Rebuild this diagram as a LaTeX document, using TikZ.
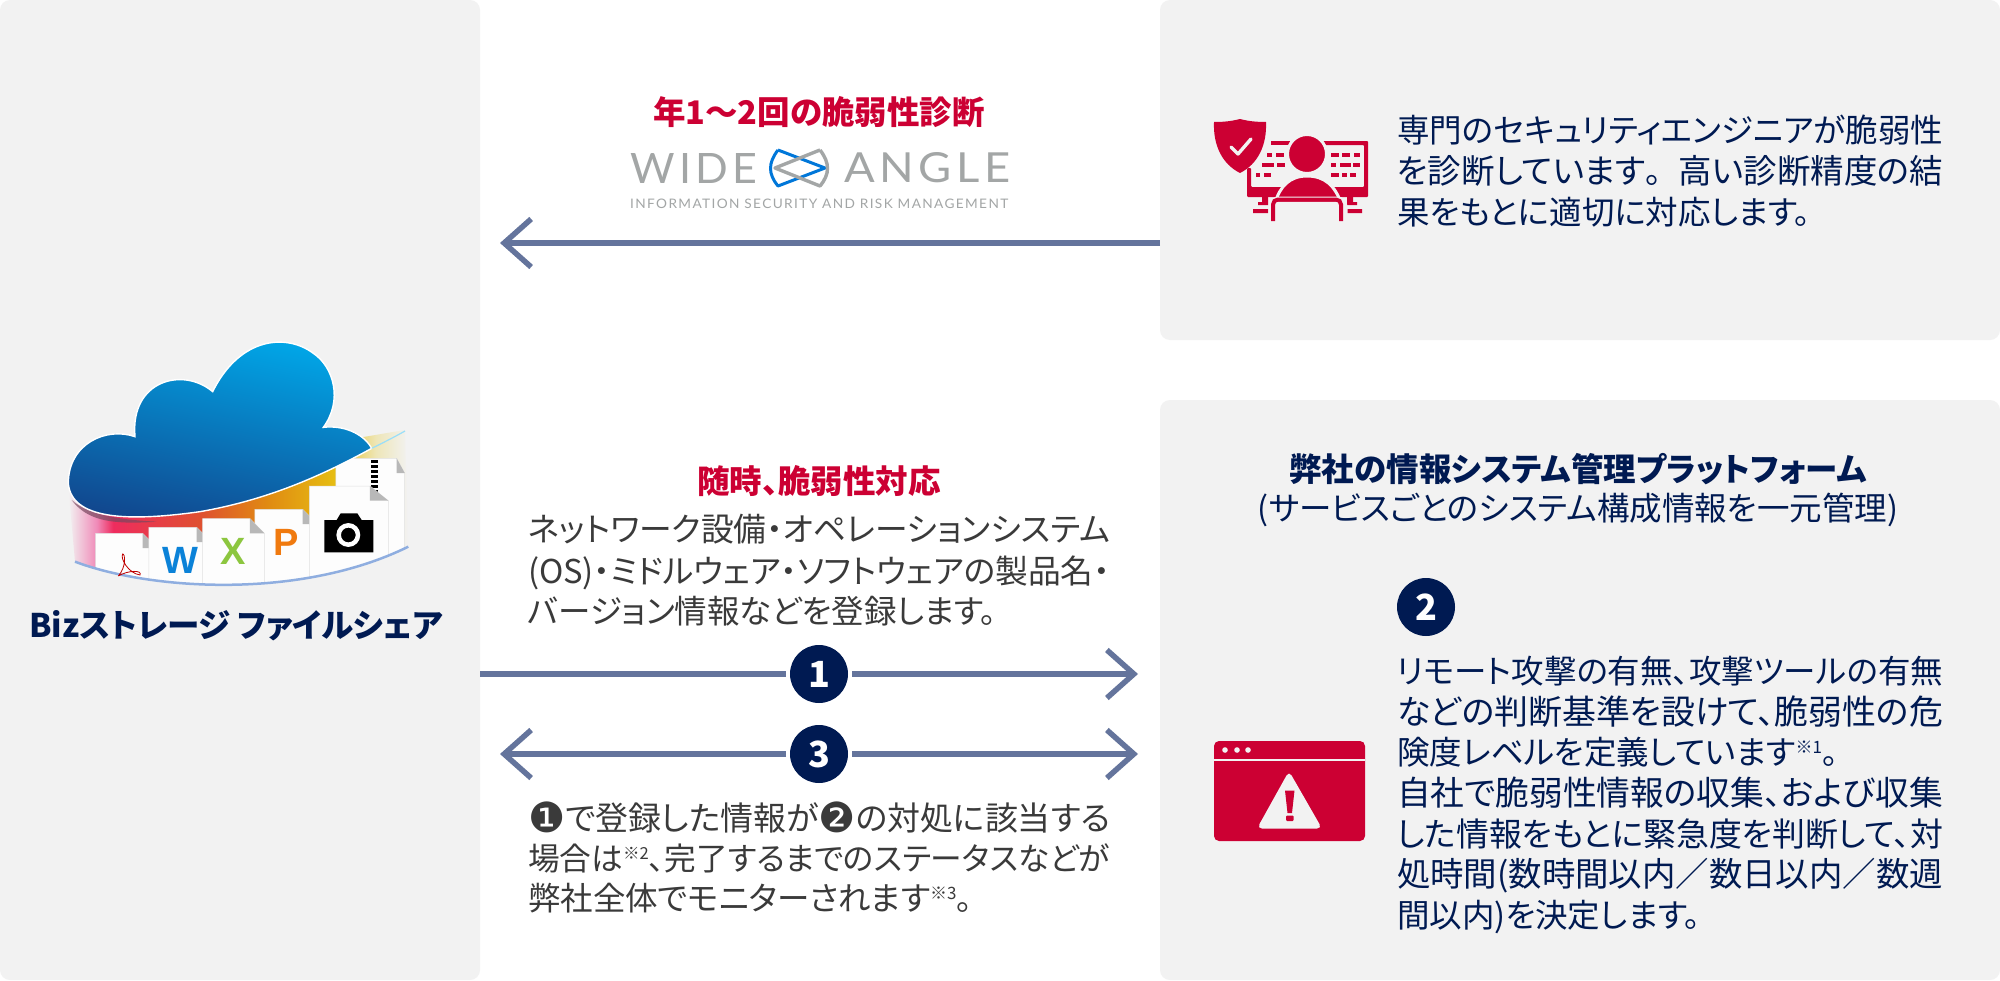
\documentclass[tikz,border=0pt]{standalone}
\usepackage{fontspec}
\usepackage{graphicx}
\usetikzlibrary{arrows.meta}
\setmainfont{Noto Sans CJK JP}[RawFeature={+palt}]
\newfontfamily\jpf{Noto Sans CJK JP}
\newfontfamily\djv{DejaVu Sans}
\newfontfamily\lato{Lato}[LetterSpace=10]
\newfontfamily\arl{Liberation Sans}
\definecolor{panel}{HTML}{F2F2F2}
\definecolor{navy}{HTML}{001A52}
\definecolor{crim}{HTML}{CC0033}
\definecolor{lineblue}{HTML}{64749C}
\definecolor{txtgray}{HTML}{3A3A3A}
\definecolor{logogray}{HTML}{A3A6A6}
\definecolor{bandA}{HTML}{F08AB8}
\definecolor{bandB}{HTML}{EE2C5E}
\definecolor{bandC}{HTML}{DF5030}
\definecolor{bandD}{HTML}{E08A12}
\definecolor{bandE}{HTML}{E6BC12}
\definecolor{bandF}{HTML}{EEE6B8}
\definecolor{cloudtop}{HTML}{00A9EA}
\definecolor{cloudbot}{HTML}{11488F}
\pgfdeclarehorizontalshading{rainbowband}{100bp}{
 color(0bp)=(panel); color(25bp)=(panel);
 color(29.2bp)=(bandA); color(31.6bp)=(bandB);
 color(44.4bp)=(bandC); color(54.2bp)=(bandD);
 color(64bp)=(bandE); color(70.3bp)=(bandF); color(75bp)=(panel); color(100bp)=(panel)}
\tikzset{
 x=1pt,y=-1pt,
 panelbox/.style={fill=panel,rounded corners=10pt,inner sep=0pt,outer sep=0pt},
 txt/.style={anchor=base west,inner sep=0pt,outer sep=0pt,font=\fontsize{32.5}{36}\selectfont},
 ctxt/.style={anchor=base,inner sep=0pt,outer sep=0pt,font=\fontsize{32.5}{36}\selectfont},
 conn/.style={draw=lineblue,line width=5.5pt},
 tip/.style={-{Straight Barb[length=27pt,width=48pt]}},
 badge/.style={circle,fill=navy,text=white,minimum size=58pt,inner sep=0pt,outer sep=4pt,font=\fontsize{36}{36}\selectfont\bfseries},
 doc/.style={fill=white!60!panel!40!white,draw=black!12,line width=0.5pt},
 fold/.style={fill=black!28},
}
\newcommand{\smallnote}[1]{\raisebox{11pt}{\fontsize{17}{17}\selectfont ※#1}}
\newcommand{\fitw}[2]{\resizebox{#1pt}{!}{#2}}
\newcommand{\bignum}[1]{\raisebox{-2.5pt}{\fontsize{41}{41}\djv #1}}
\newcommand{\docshape}[4]{% left, fold x, right, top
 \path[doc] (#1,#4)--(#2,#4)--(#3,#4+44)--(#3,830)--(#1,830)--cycle;
 \path[fold] (#2,#4)--(#2,#4+44)--(#3,#4+44)--cycle;}
\begin{document}
\begin{tikzpicture}
\useasboundingbox (0,0) rectangle (2000,980);
\fill[white] (0,0) rectangle (2000,980);
% panels
\node[panelbox,minimum width=480pt,minimum height=980pt] (left) at (240,490) {};
\node[panelbox,minimum width=840pt,minimum height=340pt] (rtop) at (1580,170) {};
\node[panelbox,minimum width=840pt,minimum height=580pt] (rbot) at (1580,690) {};

% ---------- cloud emblem (coordinates of a 3x enlargement)
\begin{scope}[shift={(0,320)},scale=1/3]
 \path[shading=rainbowband] (205,500)--(1215,330)--(1225,680) .. controls (900,840) and (450,810) .. (225,725)--cycle;
 % documents, clipped by the lower arc
 \begin{scope}
  \clip (200,300) -- (1215,300) -- (1215,680) -- (1225,680) .. controls (900,840) and (450,810) .. (225,725) -- cycle;
  \docshape{1008}{1190}{1214}{415}
  \draw[black,line width=7pt,dash pattern=on 2.5pt off 2.5pt] (1124,420)--(1124,520);
  \docshape{765}{908}{952}{568}
  \docshape{928}{1110}{1165}{498}
  \docshape{287}{428}{472}{640}
  \docshape{447}{590}{634}{622}
  \docshape{608}{750}{793}{596}
 \end{scope}
 % lower arc
 \draw[draw=cyan!50!blue!45!white,line width=2.5pt] (225,725) .. controls (450,810) and (900,840) .. (1225,680);
 % shadow under the cloud
 \fill[black!60!magenta,opacity=.7] (215,540) .. controls (260,600) and (330,615) .. (470,605) .. controls (380,600) and (270,590) .. (215,540);
 % cloud
 \draw[white,line width=1.4pt,shading=axis,top color=cloudtop,bottom color=cloudbot,shading angle=-12,draw=white]
  (1115,385) .. controls (1090,340) and (1030,315) .. (970,322)
  .. controls (1030,240) and (1000,140) .. (940,100)
  .. controls (860,40) and (720,50) .. (638,215)
  .. controls (550,140) and (390,180) .. (405,350)
  .. controls (320,320) and (205,370) .. (205,490)
  .. controls (215,610) and (420,600) .. (600,575)
  .. controls (800,540) and (960,470) .. (1115,385) -- cycle;
 \draw[cyan!40!white,line width=1.2pt] (1115,385) .. controls (1150,368) and (1185,350) .. (1215,333);
 % icons on documents
 \node[inner sep=0pt,text={rgb,255:red,11;green,130;blue,216},font=\fontsize{38}{38}\selectfont\arl\bfseries] (wd) at (540,722) {W};
 \node[inner sep=0pt,text={rgb,255:red,140;green,198;blue,63},font=\fontsize{38}{38}\selectfont\arl\bfseries] (xl) at (700,695) {X};
 \node[inner sep=0pt,text={rgb,255:red,240;green,122;blue,15},font=\fontsize{38}{38}\selectfont\arl\bfseries] (pp) at (860,667) {P};
 \draw[red!75!black,line width=0.8pt] (355,768) .. controls (380,740) and (375,700) .. (368,702) .. controls (360,715) and (385,760) .. (420,765) .. controls (428,750) and (385,750) .. (355,768);
 \fill[black] (973,600)--(1010,600)--(1022,580)--(1072,580)--(1085,600)--(1120,600)--(1120,697)--(973,697)--cycle;
 \draw[white,line width=4.5pt] (1045,645) circle (29);
\end{scope}
\node[ctxt,text=navy,font=\fontsize{32.5}{36}\selectfont\bfseries] (biz) at (236,637) {Bizストレージ ファイルシェア};

% ---------- top middle
\node[ctxt,text=crim,font=\fontsize{32.5}{36}\selectfont\bfseries] (t1) at (819,124) {年1〜2回の脆弱性診断};
\node[anchor=west,inner sep=0pt,text=logogray] (wide) at (630,168) {\resizebox{127pt}{30pt}{\lato WIDE}};
\node[anchor=west,inner sep=0pt,text=logogray] (angle) at (844,168) {\resizebox{166pt}{30pt}{\lato ANGLE}};
\node[anchor=west,inner sep=0pt,text=logogray] (wsub) at (630,204) {\resizebox{378pt}{9.5pt}{\lato INFORMATION SECURITY AND RISK MANAGEMENT}};
\draw[draw=blue!45!cyan!85!black,line width=3pt,line join=round] (778,150) .. controls (768,163) and (768,174) .. (778,186)--(825,168)--(778,150);
\draw[draw=logogray,line width=3.4pt,line join=round] (820,150) .. controls (830,163) and (830,174) .. (820,186)--(775,168)--(820,150);

% ---------- connectors
\coordinate (p1) at (500,243);
\draw[conn,tip] (rtop.west |- p1) -- (p1);
\node[badge] (one) at (819,674) {1};
\node[badge] (three) at (819,754) {3};
\coordinate (e1) at (1138,674);
\coordinate (e3r) at (1138,754);
\coordinate (e3l) at (500,754);
\draw[conn] (left.east |- one) -- (one);
\draw[conn,tip] (one) -- (e1);
\draw[conn,tip] (three) -- (e3l);
\draw[conn,tip] (three) -- (e3r);

% ---------- middle texts
\node[ctxt,text=crim,font=\fontsize{32.5}{36}\selectfont\bfseries] (t2) at (819,493) {随時、脆弱性対応};
\begin{scope}[every node/.append style={txt,text=txtgray}]
\node (m1) at (528,541) {\fitw{582}{ネットワーク設備・オペレーションシステム}};
\node (m2) at (528,583) {\fitw{582}{(OS)・ミドルウェア・ソフトウェアの製品名・}};
\node (m3) at (528,623) {バージョン情報などを登録します。};
\node (b1) at (528,830) {\fitw{582}{\bignum{❶}で登録した情報が\bignum{❷}の対処に該当する}};
\node (b2) at (528,870) {\fitw{582}{場合は\smallnote{2}、完了するまでのステータスなどが}};
\node (b3) at (528,910) {弊社全体でモニターされます\smallnote{3}{\jpf 。}};
\end{scope}

% ---------- right texts
\begin{scope}[every node/.append style={txt,text=navy}]
\node (r1) at (1397,142) {\fitw{546}{専門のセキュリティエンジニアが脆弱性}};
\node (r2) at (1397,183) {\fitw{546}{を診断しています{\jpf 。}高い診断精度の結}};
\node (r3) at (1397,224) {果をもとに適切に対応します。};
\node (s1) at (1397,683) {\fitw{546}{リモート攻撃の有無、攻撃ツールの有無}};
\node (s2) at (1397,724) {\fitw{546}{などの判断基準を設けて、脆弱性の危}};
\node (s3) at (1397,764) {険度レベルを定義しています\smallnote{1}。};
\node (s4) at (1397,805) {\fitw{546}{自社で脆弱性情報の収集、および収集}};
\node (s5) at (1397,846) {\fitw{546}{した情報をもとに緊急度を判断して、対}};
\node (s6) at (1397,886) {\fitw{546}{処時間(数時間以内{\jpf ／}数日以内{\jpf ／}数週}};
\node (s7) at (1397,927) {間以内)を決定します。};
\end{scope}
\node[ctxt,text=navy,font=\fontsize{32.5}{36}\selectfont\bfseries] (h1) at (1578,481) {弊社の情報システム管理プラットフォーム};
\node[ctxt,text=navy] (h2) at (1578,520) {{\jpf (}サービスごとのシステム構成情報を一元管理{\jpf )}};
\node[badge] (two) at (1426,607) {2};

% ---------- engineer icon
\fill[crim] (1214,122) .. controls (1225,122) and (1232,121) .. (1240,119) .. controls (1248,121) and (1255,122) .. (1266,122) .. controls (1267,145) and (1258,164) .. (1240,173) .. controls (1222,164) and (1213,145) .. (1214,122) -- cycle;
\draw[panel,line width=3.4pt,line cap=round,line join=round] (1231,147)--(1238,154)--(1251,139);
\begin{scope}
 \fill[crim,rounded corners=1pt] (1247,168)--(1247,197)--(1368,197)--(1368,141)--(1292,141)--(1292,145)--(1364,145)--(1364,187)--(1251,187)--(1251,168)--cycle;
 \fill[crim] (1258,202) rectangle (1268,205) (1347,202) rectangle (1357,205) (1253,209) rectangle (1268,213) (1347,209) rectangle (1362,213) (1262,197) rectangle (1268,202) (1347,197) rectangle (1353,202);
 \foreach \xa/\ya/\xb in {1267/155/1272,1276/155/1284,1262/165/1274,1277/165/1285,1256/175/1260,1264/175/1271,1331/155/1339,1342/155/1350,1354/155/1360,1331/165/1336,1340/165/1351,1353/165/1360,1331/175/1339,1342/175/1347,1350/175/1356}
  \fill[crim] (\xa,\ya-1.7) rectangle (\xb,\ya+1.7);
 \fill[crim] (1271,141) rectangle (1290,145);
 \filldraw[draw=panel,line width=3pt,fill=crim] (1307,154) circle (19.5);
 \filldraw[draw=panel,line width=3pt,fill=crim] (1275,203) .. controls (1280,186) and (1290,176) .. (1307,176) .. controls (1325,176) and (1335,186) .. (1341,203) -- cycle;
 \draw[panel,line width=3pt] (1270,222)--(1270,207) .. controls (1270,201) and (1274,198) .. (1279,198) -- (1337,198) .. controls (1342,198) and (1346,201) .. (1346,207) -- (1346,222);
 \draw[crim,line width=4pt,rounded corners=5pt] (1273,221)--(1273,199.5)--(1341,199.5)--(1341,221);
\end{scope}

% ---------- warning icon
\fill[crim,rounded corners=5pt] (1214,741) rectangle (1365,841);
\fill[panel] (1214,759.3) rectangle (1365,761.3);
\fill[panel] (1225,750) circle (2.8) (1237,750) circle (2.8) (1248,750) circle (2.8);
\fill[panel,rounded corners=5pt] (1289,771) -- (1322,828.5) -- (1257,828.5) -- cycle;
\fill[crim] (1285,790.5) -- (1294.5,790.5) -- (1292,813) -- (1287.5,813) -- cycle;
\fill[crim,rounded corners=1pt] (1286,815.5) rectangle (1293.5,821);
\end{tikzpicture}
\end{document}
